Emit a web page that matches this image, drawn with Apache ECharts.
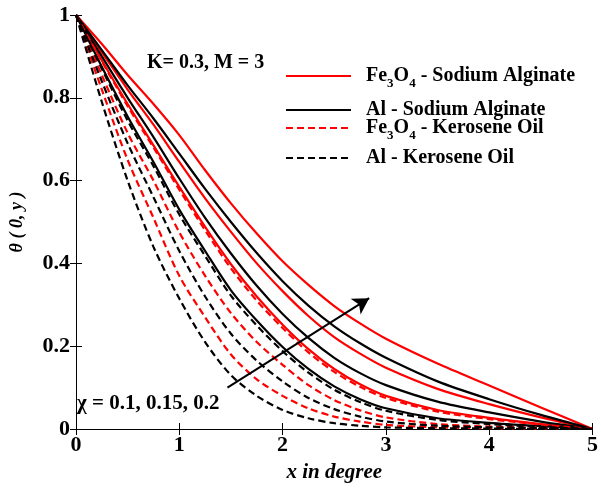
<!DOCTYPE html>
<html>
<head>
<meta charset="utf-8">
<script src="https://cdn.jsdelivr.net/npm/echarts@6/dist/echarts.min.js"></script>
<style>
  html, body { margin: 0; padding: 0; background: #fff; }
  #chart { width: 601px; height: 488px; }
</style>
</head>
<body>
<div id="chart"></div>
<script>
  // x positions of the sampled points
  var xVals = [0, 0.25, 0.5, 0.75, 1, 1.25, 1.5, 1.75, 2, 2.25, 2.5, 2.75, 3, 3.5, 4, 4.5, 5];

  // Fe3O4 - Sodium Alginate (red solid), chi = 0.2 / 0.15 / 0.1
  var feSA02  = [1, 0.93, 0.855, 0.785, 0.71, 0.625, 0.545, 0.472, 0.405, 0.348, 0.297, 0.255, 0.218, 0.158, 0.105, 0.052, 0];
  var feSA015 = [1, 0.91, 0.82, 0.735, 0.645, 0.557, 0.476, 0.4, 0.333, 0.273, 0.222, 0.182, 0.148, 0.097, 0.06, 0.028, 0];
  var feSA01  = [1, 0.89, 0.785, 0.685, 0.585, 0.488, 0.398, 0.32, 0.252, 0.193, 0.145, 0.108, 0.08, 0.046, 0.027, 0.012, 0];
  // Al - Sodium Alginate (black solid)
  var alSA02  = [1, 0.915, 0.83, 0.75, 0.665, 0.58, 0.5, 0.425, 0.357, 0.298, 0.248, 0.207, 0.172, 0.115, 0.072, 0.034, 0];
  var alSA015 = [1, 0.9, 0.8, 0.705, 0.605, 0.51, 0.424, 0.346, 0.278, 0.22, 0.172, 0.135, 0.106, 0.066, 0.04, 0.018, 0];
  var alSA01  = [1, 0.875, 0.755, 0.645, 0.53, 0.43, 0.335, 0.262, 0.198, 0.145, 0.103, 0.072, 0.05, 0.026, 0.015, 0.007, 0];
  // Fe3O4 - Kerosene Oil (red dashed)
  var feKO02  = [1, 0.888, 0.78, 0.68, 0.578, 0.48, 0.388, 0.31, 0.244, 0.185, 0.138, 0.102, 0.075, 0.042, 0.024, 0.011, 0];
  var feKO015 = [1, 0.855, 0.715, 0.6, 0.475, 0.37, 0.28, 0.21, 0.155, 0.106, 0.07, 0.045, 0.028, 0.012, 0.006, 0.003, 0];
  var feKO01  = [1, 0.82, 0.65, 0.51, 0.37, 0.27, 0.18, 0.12, 0.08, 0.05, 0.03, 0.018, 0.01, 0.004, 0.002, 0.001, 0];
  // Al - Kerosene Oil (black dashed)
  var alKO02  = [1, 0.87, 0.745, 0.635, 0.518, 0.418, 0.322, 0.25, 0.188, 0.136, 0.095, 0.065, 0.044, 0.022, 0.012, 0.005, 0];
  var alKO015 = [1, 0.84, 0.69, 0.56, 0.43, 0.32, 0.23, 0.165, 0.115, 0.075, 0.048, 0.03, 0.018, 0.008, 0.004, 0.002, 0];
  var alKO01  = [1, 0.79, 0.6, 0.44, 0.315, 0.21, 0.13, 0.08, 0.046, 0.026, 0.014, 0.008, 0.004, 0.002, 0.001, 0, 0];

  var names = ['Fe3O4 - Sodium Alginate', 'Al - Sodium Alginate', 'Fe3O4 - Kerosene Oil', 'Al - Kerosene Oil'];
  var arrowFrom = [1.466, 0.1];
  var arrowTo = [2.838, 0.316];

  var font = 'Liberation Serif, Times New Roman, serif';

  function pts(arr) {
    return xVals.map(function (x, i) { return [x, arr[i]]; });
  }

  function line(name, arr, color, dashed) {
    return {
      name: name,
      type: 'line',
      data: pts(arr),
      smooth: 0.3,
      symbol: 'none',
      lineStyle: { color: color, width: 2.2, type: dashed ? [7, 4] : 'solid' },
      itemStyle: { color: color }
    };
  }

  var series = [
    line(names[0], feSA02, '#ff0000', false),
    line(names[0], feSA015, '#ff0000', false),
    line(names[0], feSA01, '#ff0000', false),
    line(names[1], alSA02, '#000000', false),
    line(names[1], alSA015, '#000000', false),
    line(names[1], alSA01, '#000000', false),
    line(names[2], feKO02, '#ff0000', true),
    line(names[2], feKO015, '#ff0000', true),
    line(names[2], feKO01, '#ff0000', true),
    line(names[3], alKO02, '#000000', true),
    line(names[3], alKO015, '#000000', true),
    line(names[3], alKO01, '#000000', true)
  ];
  // the chi arrow
  series[11].markLine = {
    silent: true,
    symbol: ['none', 'arrow'],
    symbolSize: [14, 16],
    label: { show: false },
    lineStyle: { color: '#000', width: 2, type: 'solid' },
    data: [[{ coord: arrowFrom }, { coord: arrowTo }]]
  };

  var rich = {
    n: { fontFamily: font, fontWeight: 'bold', fontSize: 20, color: '#000', verticalAlign: 'top', lineHeight: 20 },
    s: { fontFamily: font, fontWeight: 'bold', fontSize: 13, color: '#000', verticalAlign: 'top', lineHeight: 13, padding: [11, 0, 0, 0] }
  };
  function legendLabel(name) {
    if (name.indexOf('Fe3O4') === 0) {
      return '{n|  Fe}{s|3}{n|O}{s|4}{n|' + name.slice(5) + '}';
    }
    return '{n|  ' + name + '}';
  }
  function legendAt(name, top) {
    return {
      data: [name],
      left: 285,
      top: top,
      padding: 0,
      itemWidth: 65,
      itemHeight: 14,
      selectedMode: false,
      itemStyle: { opacity: 0 },
      formatter: legendLabel,
      textStyle: { rich: rich }
    };
  }

  var axisLine = { show: true, lineStyle: { color: '#000', width: 1 } };
  var tick = { show: true, inside: true, length: 6, lineStyle: { color: '#000' } };
  var tickLabel = { fontFamily: font, fontWeight: 'bold', fontSize: 22, color: '#000' };

  var myChart = echarts.init(document.getElementById('chart'));
  myChart.setOption({
    animation: false,
    backgroundColor: '#fff',
    grid: { left: 68, right: 4, top: 15, bottom: 56 },
    legend: [
      legendAt(names[0], 66),
      legendAt(names[1], 100),
      legendAt(names[2], 118),
      legendAt(names[3], 148)
    ],
    xAxis: [
      {
        type: 'value', min: 0, max: 5, interval: 1,
        axisLine: axisLine, axisTick: tick, splitLine: { show: false },
        axisLabel: Object.assign({ margin: 5 }, tickLabel),
        name: 'x in degree', nameLocation: 'middle', nameGap: 33,
        nameTextStyle: { fontFamily: font, fontWeight: 'bold', fontStyle: 'italic', fontSize: 21, color: '#000' }
      },
      {
        type: 'value', position: 'top', min: 0, max: 5, interval: 1,
        axisLine: axisLine, axisTick: tick, splitLine: { show: false },
        axisLabel: { show: false }
      }
    ],
    yAxis: [
      {
        type: 'value', min: 0, max: 1, interval: 0.2,
        axisLine: axisLine, axisTick: tick, splitLine: { show: false },
        axisLabel: Object.assign({ margin: 6 }, tickLabel),
        name: 'θ ( 0, y )', nameLocation: 'middle', nameGap: 50,
        nameTextStyle: { fontFamily: font, fontWeight: 'bold', fontStyle: 'italic', fontSize: 18, color: '#000' }
      },
      {
        type: 'value', position: 'right', min: 0, max: 1, interval: 0.2,
        axisLine: axisLine, axisTick: tick, splitLine: { show: false },
        axisLabel: { show: false }
      }
    ],
    graphic: [
      {
        type: 'text', left: 147, top: 53,
        style: { text: 'K= 0.3, M = 3', font: 'bold 20px ' + font, fill: '#000' }
      },
      {
        type: 'text', left: 77, top: 393,
        style: { text: 'χ = 0.1, 0.15, 0.2', font: 'bold 21px ' + font, fill: '#000' }
      }
    ],
    series: series
  });
</script>
</body>
</html>
